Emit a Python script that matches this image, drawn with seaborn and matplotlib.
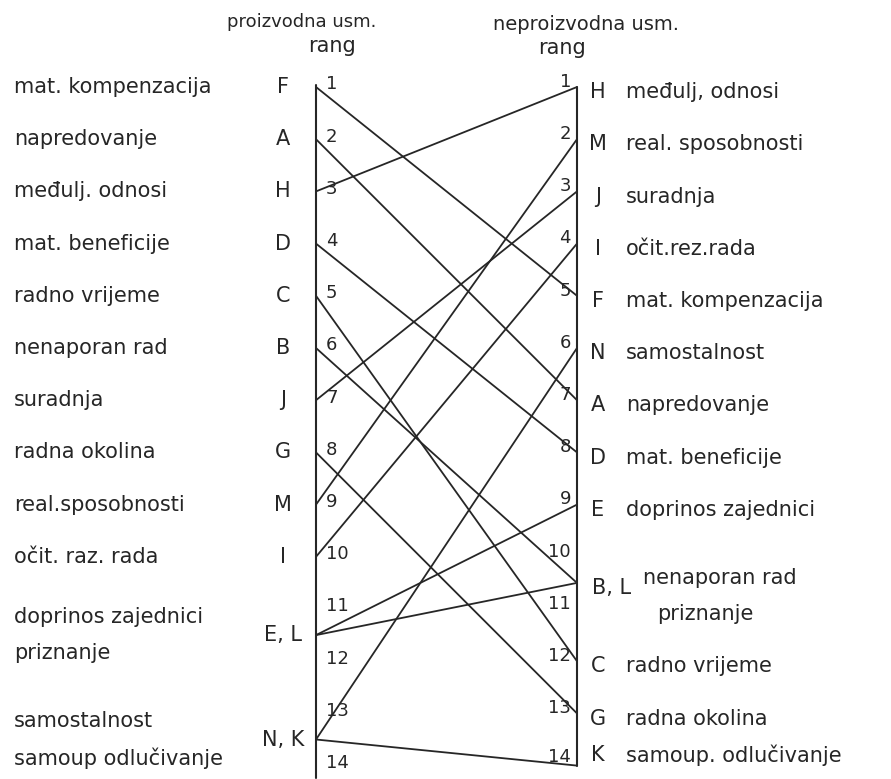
import numpy as np
import pandas as pd
import matplotlib
matplotlib.use("Agg")
import matplotlib.pyplot as plt
import seaborn as sns

# rang faktora: proizvodna vs neproizvodna usmjerenja
slova = ["F", "A", "H", "D", "C", "B", "J", "G", "M", "I", "E", "L", "N", "K"]
rang_proizvodna = [1, 2, 3, 4, 5, 6, 7, 8, 9, 10, 11.5, 11.5, 13.5, 13.5]
rang_neproizvodna = [5, 7, 1, 8, 12, 10.5, 3, 13, 2, 4, 9, 10.5, 6, 14]

nazivi_lijevo = ["mat. kompenzacija", "napredovanje", "međulj. odnosi", "mat. beneficije",
                 "radno vrijeme", "nenaporan rad", "suradnja", "radna okolina",
                 "real.sposobnosti", "očit. raz. rada", "doprinos zajednici", "priznanje",
                 "samostalnost", "samoup odlučivanje"]
nazivi_desno = ["mat. kompenzacija", "napredovanje", "međulj, odnosi", "mat. beneficije",
                "radno vrijeme", "nenaporan rad", "suradnja", "radna okolina",
                "real. sposobnosti", "očit.rez.rada", "doprinos zajednici", "priznanje",
                "samostalnost", "samoup. odlučivanje"]
rangovi = list(range(1, 15))
naslov_lijevo = "proizvodna usm."
naslov_desno = "neproizvodna usm."

sns.set_theme(style="white")
plt.rcParams['font.family'] = ['DejaVu Sans']

# pikselni raspored
X0, X1 = 316, 577
Y1, KORAK = 87, 52.2
def fx(px):
    return (px - X0) / (X1 - X0)
def fy(py):
    return 1 + (py - Y1) / KORAK

df = pd.DataFrame({
    'item': slova * 2,
    'strana': [0] * len(slova) + [1] * len(slova),
    'rang': rang_proizvodna + rang_neproizvodna,
})

fig = plt.figure(figsize=(8.91, 7.79), dpi=100)
ax = fig.add_axes([0, 0, 1, 1])
boja = '#262626'

sns.lineplot(data=df, x='strana', y='rang', units='item', estimator=None,
             color=boja, lw=1.3, legend=False, ax=ax)

ax.plot([0, 0], [fy(85), fy(778)], color=boja, lw=1.5)
ax.plot([1, 1], [fy(87), 14], color=boja, lw=1.5)

ax.set_xlim(fx(0), fx(891))
ax.set_ylim(fy(779), fy(0))
ax.axis('off')

# brojevi ranga
for r in rangovi:
    ax.text(fx(326), r - 0.05, str(r), ha='left', va='center', fontsize=13, color=boja)
    ax.text(fx(571), min(r - 0.1, fy(757)), str(r), ha='right', va='center', fontsize=13, color=boja)

fs = 15

# lijeva strana
grupe = {}
for i, r in enumerate(rang_proizvodna):
    grupe.setdefault(r, []).append(i)
for r, idx in grupe.items():
    ax.text(fx(283), r, ", ".join(slova[i] for i in idx), ha='center', va='center',
            fontsize=fs, color=boja)
    n = len(idx)
    for k, i in enumerate(idx):
        ax.text(fx(14), r + (k - (n - 1) / 2) * 0.7, nazivi_lijevo[i], ha='left',
                va='center', fontsize=fs, color=boja)

# desna strana
grupe = {}
for i, r in enumerate(rang_neproizvodna):
    grupe.setdefault(r, []).append(i)
for r, idx in grupe.items():
    if len(idx) == 1:
        i = idx[0]
        y = min(r + 0.1, fy(755))
        ax.text(fx(598), y, slova[i], ha='center', va='center', fontsize=fs, color=boja)
        ax.text(fx(626), y, nazivi_desno[i], ha='left', va='center', fontsize=fs, color=boja)
    else:
        ax.text(fx(592), r + 0.1, ", ".join(slova[i] for i in idx), ha='left', va='center',
                fontsize=fs, color=boja)
        ax.text(fx(643), r - 0.1, nazivi_desno[idx[0]], ha='left', va='center',
                fontsize=fs, color=boja)
        ax.text(fx(657), r + 0.6, nazivi_desno[idx[1]], ha='left', va='center',
                fontsize=fs, color=boja)

# naslovi
ax.text(fx(302), fy(22), naslov_lijevo, ha='center', va='center', fontsize=13, color=boja)
ax.text(fx(332), fy(46), "rang", ha='center', va='center', fontsize=15, color=boja)
ax.text(fx(493), fy(24), naslov_desno, ha='left', va='center', fontsize=14, color=boja)
ax.text(fx(562), fy(48), "rang", ha='center', va='center', fontsize=15, color=boja)

fig.savefig("out.png", dpi=100, facecolor='white')
